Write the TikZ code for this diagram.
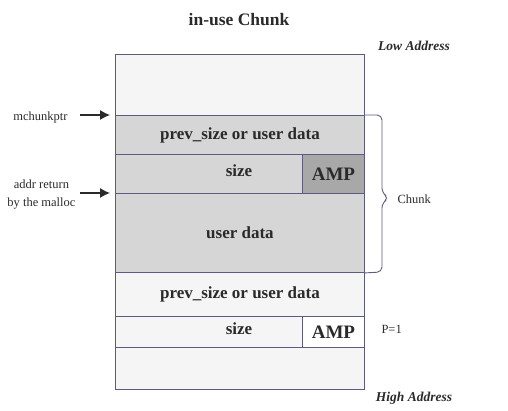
\documentclass[tikz,border=0pt]{standalone}
\usepackage{fontspec}
\setmainfont{Liberation Serif}
\usetikzlibrary{positioning,arrows.meta}
\definecolor{edgec}{HTML}{5C5C80}
\definecolor{lightc}{HTML}{F5F5F5}
\definecolor{grayc}{HTML}{D6D6D6}
\definecolor{ampc}{HTML}{A8A8A8}
\definecolor{textc}{HTML}{2A2A2A}
\tikzset{
  cell/.style={draw=edgec, line width=0.9pt, anchor=north west, inner sep=0pt,
    text=textc, font=\fontsize{17}{19}\selectfont\bfseries},
  ampcell/.style={cell, font=\fontsize{19}{21}\selectfont\bfseries},
  celltext/.style={text=textc, font=\fontsize{17}{19}\selectfont\bfseries},
  sidelabel/.style={text=textc, font=\fontsize{12.5}{18}\selectfont, align=center},
  addrlabel/.style={text=textc, font=\fontsize{13.5}{15}\selectfont\bfseries\itshape},
  ptrarrow/.style={-{Latex[length=10pt,width=10pt]}, line width=1.2pt, textc, shorten >=5pt}
}
\begin{document}
\begin{tikzpicture}[x=1pt,y=-1pt]
\useasboundingbox (0,0) rectangle (508,411);
% title
\node[text=textc, font=\fontsize{17.5}{19}\selectfont\bfseries] (title) at (239,20) {in-use Chunk};
\node[addrlabel] (low) at (414,46) {Low Address};
\node[addrlabel] (high) at (414,398) {High Address};
% memory cells
\node[cell, fill=lightc, minimum width=249pt, minimum height=61pt] (top) at (115,54) {};
\node[cell, fill=grayc, minimum width=249pt, minimum height=39pt] (prev1) at (115,115) {prev\_size or user data};
\node[cell, fill=grayc, minimum width=187pt, minimum height=39pt] (size1) at (115,154) {};
\node[ampcell, fill=ampc, minimum width=62pt, minimum height=39pt] (amp1) at (302,154) {AMP};
\node[cell, fill=grayc, minimum width=249pt, minimum height=79pt] (udata) at (115,193) {user data};
\node[cell, fill=lightc, minimum width=249pt, minimum height=44pt] (prev2) at (115,272) {prev\_size or user data};
\node[cell, fill=lightc, minimum width=187pt, minimum height=31pt] (size2) at (115,316) {};
\node[ampcell, fill=white, minimum width=62pt, minimum height=31pt] (amp2) at (302,316) {AMP};
\node[cell, fill=lightc, minimum width=249pt, minimum height=42pt] (bottom) at (115,347) {};
\node[celltext] (size1txt) at (239,171) {size};
\node[celltext] (size2txt) at (239,329) {size};
% pointers
\node[sidelabel, anchor=east] (mcp) at (71,117) {mchunkptr};
\draw[ptrarrow] (80,115) coordinate (mcpstart) -- (prev1.north west);
\node[sidelabel, anchor=east] (ret) at (79,195) {addr return\\by the malloc};
\draw[ptrarrow] (80,193) coordinate (retstart) -- (udata.north west);
% brace
\coordinate (tip) at (389,198);
\draw[edgec, line width=0.9pt, rounded corners=5pt] (prev1.north east) -- (382,115) -- (382,193) -- (tip) -- (382,203) -- (382,272) -- (udata.south east);
\node[sidelabel, anchor=west] (chunk) at (394,199) {Chunk};
\node[sidelabel, anchor=west] (pbit) at (378,329) {P=1};
\end{tikzpicture}
\end{document}
